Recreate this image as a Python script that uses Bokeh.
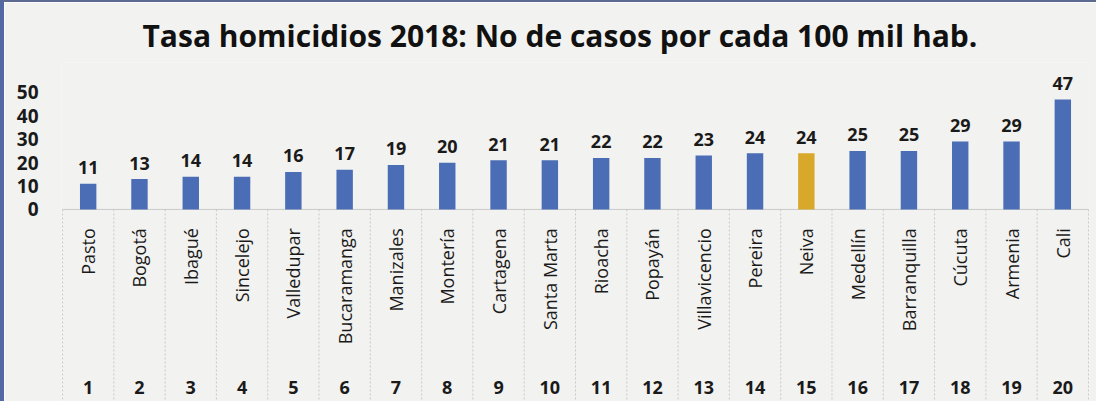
import numpy as np
from bokeh.plotting import figure
from bokeh.models import Range1d, FixedTicker, ColumnDataSource
from bokeh.embed import file_html
from bokeh.resources import INLINE
from bokeh.core.properties import value

# ---- data ----
cities = ["Pasto", "Bogotá", "Ibagué", "Sincelejo", "Valledupar", "Bucaramanga",
          "Manizales", "Montería", "Cartagena", "Santa Marta", "Rioacha", "Popayán",
          "Villavicencio", "Pereira", "Neiva", "Medellín", "Barranquilla", "Cúcuta",
          "Armenia", "Cali"]
rates = [11, 13, 14, 14, 16, 17, 19, 20, 21, 21, 22, 22, 23, 24, 24, 25, 25, 29, 29, 47]
ranks = [1, 2, 3, 4, 5, 6, 7, 8, 9, 10, 11, 12, 13, 14, 15, 16, 17, 18, 19, 20]
highlight = "Neiva"
y_ticks = [0, 10, 20, 30, 40, 50]
title_text = "Tasa homicidios 2018: No de casos por cada 100 mil hab."

# ---- styling ----
BG = "#f2f2f0"
BLUE = "#4a6db5"
GOLD = "#d8a82a"
GRIDC = "#c9c9c9"
FONT = "Open Sans"

n = len(cities)
xs = np.arange(1, n + 1)
colors = [GOLD if c == highlight else BLUE for c in cities]

src = ColumnDataSource(dict(
    x=xs, city=cities, rate=rates, rate_txt=[str(v) for v in rates],
    rank_txt=[str(r) for r in ranks], color=colors,
))

Y_TOP = 62.8
Y_BOT = -82.1
NAME_Y = -8.0
RANK_Y = -76.0

p = figure(width=1096, height=401,
           x_range=Range1d(0.48, n + 0.52), y_range=Range1d(Y_BOT, Y_TOP),
           output_backend="svg", toolbar_location=None, x_axis_location=None,
           min_border_left=57, min_border_right=11, min_border_top=60, min_border_bottom=2,
           background_fill_color=BG, border_fill_color=BG, outline_line_color=None,
           title=title_text)
p.styles = {"border-left": "4px solid #5269a6", "border-top": "2px solid #5d6b93"}

p.title.align = "left"
p.title.offset = 81
p.title.standoff = 13
p.title.text_font = FONT
p.title.text_font_style = "bold"
p.title.text_font_size = "30px"
p.title.text_color = "#111111"

p.grid.visible = False
ax = p.yaxis[0]
ax.ticker = FixedTicker(ticks=y_ticks)
ax.axis_line_color = None
ax.major_tick_line_color = None
ax.minor_tick_line_color = None
ax.major_label_text_font = FONT
ax.major_label_text_font_style = "bold"
ax.major_label_text_font_size = "19px"
ax.major_label_text_color = "#1a1a1a"
ax.major_label_standoff = 17

# table lines
bounds = np.arange(0.5, n + 1.0, 1.0)
p.segment(x0=bounds, y0=[0] * len(bounds), x1=bounds, y1=[Y_BOT] * len(bounds),
          line_color=GRIDC, line_width=1, line_dash="2 2")
p.segment(x0=[0.5], y0=[0], x1=[n + 0.5], y1=[0], line_color=GRIDC, line_width=1)

# bars
p.vbar(x="x", top="rate", bottom=0, width=0.32, fill_color="color", line_color=None, source=src)

# value labels
p.text(x="x", y="rate", text="rate_txt", source=src, text_align="center",
       text_baseline="alphabetic", y_offset=-16, text_font=value(FONT),
       text_font_style="bold", text_font_size="18px", text_color="#1a1a1a")

# city names
p.text(x="x", y=NAME_Y, text="city", source=src, angle=np.pi / 2,
       text_align="right", text_baseline="middle", text_font=value(FONT),
       text_font_size="18px", text_color="#1a1a1a")

# rank numbers
p.text(x="x", y=RANK_Y, text="rank_txt", source=src, text_align="center",
       text_baseline="middle", text_font=value(FONT), text_font_style="bold",
       text_font_size="18px", text_color="#1a1a1a")

open("out.html", "w").write(file_html(p, INLINE))
